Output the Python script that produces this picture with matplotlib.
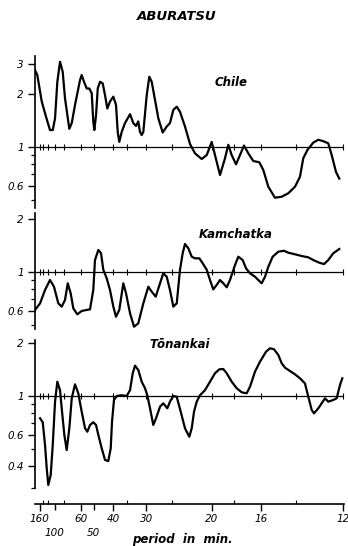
import numpy as np
import matplotlib
matplotlib.use('Agg')
from matplotlib import pyplot as plt
from matplotlib.ticker import NullFormatter

# x values: frequency in cycles per hour (axis is labelled in period = 60 / cph minutes)
# y values: spectral ratio, log scale

chile_cph = [0.302, 0.337, 0.405, 0.47, 0.531, 0.573, 0.608, 0.643, 0.684, 0.725, 0.76, 0.826,
             0.863, 0.913, 0.989, 1.015, 1.050, 1.092, 1.131, 1.168, 1.192, 1.208, 1.234, 1.260,
             1.295, 1.336, 1.371, 1.406, 1.447, 1.498, 1.539, 1.565, 1.589, 1.626, 1.676, 1.753,
             1.803, 1.844, 1.879, 1.905, 1.931, 1.956, 2.008, 2.047, 2.084, 2.134, 2.185, 2.252,
             2.313, 2.363, 2.414, 2.466, 2.516, 2.566, 2.592, 2.669, 2.745, 2.847, 2.924, 3.0,
             3.05, 3.127, 3.203, 3.253, 3.305, 3.371, 3.432, 3.493, 3.559, 3.635, 3.727, 3.788,
             3.864, 3.966, 4.069, 4.169, 4.272, 4.348, 4.398, 4.46, 4.551, 4.628, 4.704, 4.780,
             4.832, 4.898, 4.948]
chile_amp = [2.75, 2.58, 1.82, 1.49, 1.25, 1.25, 1.46, 2.36, 3.07, 2.69, 1.90, 1.27,
             1.37, 1.74, 2.41, 2.58, 2.36, 2.16, 2.16, 2.03, 1.40, 1.25, 1.52, 2.16,
             2.36, 2.31, 1.98, 1.66, 1.82, 1.94, 1.74, 1.22, 1.07, 1.22, 1.37, 1.54,
             1.37, 1.32, 1.40, 1.22, 1.17, 1.22, 1.98, 2.52, 2.36, 1.86, 1.46, 1.21,
             1.31, 1.37, 1.63, 1.70, 1.59, 1.40, 1.31, 1.04, 0.92, 0.854, 0.90, 1.07,
             0.90, 0.692, 0.862, 1.03, 0.90, 0.796, 0.90, 1.02, 0.92, 0.832, 0.818, 0.739,
             0.593, 0.513, 0.52, 0.544, 0.593, 0.677, 0.862, 0.96, 1.06, 1.10, 1.08, 1.05,
             0.90, 0.72, 0.66]

kamchatka_cph = [0.302, 0.379, 0.455, 0.531, 0.592, 0.658, 0.71, 0.76, 0.802, 0.847, 0.887, 0.948,
                 1.015, 1.092, 1.142, 1.192, 1.218, 1.269, 1.31, 1.345, 1.397, 1.447, 1.498, 1.539,
                 1.589, 1.650, 1.692, 1.753, 1.814, 1.879, 1.956, 2.032, 2.084, 2.145, 2.211, 2.261,
                 2.313, 2.363, 2.414, 2.466, 2.516, 2.557, 2.592, 2.643, 2.695, 2.745, 2.811, 2.863,
                 2.924, 2.974, 3.024, 3.076, 3.127, 3.177, 3.229, 3.279, 3.356, 3.406, 3.473, 3.524,
                 3.585, 3.661, 3.711, 3.763, 3.814, 3.864, 3.931, 4.017, 4.104, 4.169, 4.272, 4.374,
                 4.475, 4.551, 4.643, 4.715, 4.780, 4.856, 4.948]
kamchatka_amp = [0.607, 0.662, 0.789, 0.90, 0.824, 0.662, 0.634, 0.692, 0.862, 0.755, 0.62, 0.573,
                 0.599, 0.607, 0.612, 0.789, 1.17, 1.336, 1.28, 1.03, 0.92, 0.789, 0.634, 0.555,
                 0.607, 0.862, 0.755, 0.581, 0.487, 0.509, 0.662, 0.824, 0.772, 0.723, 0.862, 0.983,
                 0.94, 0.789, 0.634, 0.662, 1.03, 1.28, 1.446, 1.366, 1.223, 1.197, 1.197, 1.12,
                 1.03, 0.90, 0.796, 0.843, 0.90, 0.862, 0.818, 0.90, 1.096, 1.223, 1.17, 1.05,
                 0.983, 0.94, 0.90, 0.862, 0.94, 1.07, 1.223, 1.306, 1.323, 1.289, 1.262, 1.234,
                 1.213, 1.17, 1.13, 1.11, 1.17, 1.28, 1.353]

tonankai_cph = [0.379, 0.42, 0.455, 0.481, 0.505, 0.542, 0.573, 0.608, 0.643, 0.684, 0.715, 0.75,
                0.786, 0.826, 0.863, 0.913, 0.963, 1.015, 1.066, 1.101, 1.142, 1.192, 1.234, 1.269,
                1.321, 1.371, 1.421, 1.458, 1.478, 1.508, 1.550, 1.626, 1.702, 1.753, 1.794, 1.829,
                1.879, 1.931, 1.982, 2.017, 2.058, 2.108, 2.15, 2.211, 2.261, 2.322, 2.363, 2.414,
                2.466, 2.527, 2.592, 2.658, 2.695, 2.73, 2.771, 2.821, 2.898, 2.974, 3.05, 3.116,
                3.177, 3.229, 3.305, 3.382, 3.458, 3.534, 3.585, 3.661, 3.737, 3.829, 3.89, 3.951,
                4.017, 4.069, 4.119, 4.195, 4.272, 4.348, 4.424, 4.475, 4.527, 4.562, 4.628, 4.679,
                4.73, 4.78, 4.856, 4.908, 4.959, 4.994]
tonankai_amp = [0.746, 0.708, 0.525, 0.386, 0.31, 0.354, 0.525, 0.928, 1.207, 1.08, 0.813, 0.599,
                0.491, 0.654, 0.97, 1.166, 1.036, 0.813, 0.654, 0.625, 0.683, 0.708, 0.683, 0.599,
                0.502, 0.431, 0.425, 0.502, 0.713, 0.949, 1.0, 1.01, 1.0, 1.08, 1.348, 1.49,
                1.408, 1.207, 1.107, 1.01, 0.851, 0.683, 0.746, 0.869, 0.908, 0.851, 0.928, 1.0,
                0.99, 0.813, 0.654, 0.585, 0.654, 0.813, 0.928, 1.01, 1.08, 1.207, 1.348, 1.42,
                1.426, 1.348, 1.207, 1.107, 1.05, 1.036, 1.13, 1.377, 1.57, 1.79, 1.873, 1.85,
                1.715, 1.537, 1.451, 1.389, 1.33, 1.262, 1.18, 0.99, 0.832, 0.796, 0.851, 0.908,
                0.97, 0.928, 0.949, 0.97, 1.156, 1.262]

# period axis (minutes); 100 and 50 sit on a second, lower row
row1_periods = [160, 60, 40, 30, 20, 16, 12]
row2_periods = [100, 50]
minor_periods = [140, 120, 80, 35, 25, 18, 14]
line_tick_periods = [160, 140, 120, 100, 80, 60, 50, 40, 35, 30, 25, 20, 18, 16, 14, 12]

W, H = 348, 546
X_LO, X_HI = 0.302, 5.02


def to_cph(periods):
    return [60.0 / p for p in periods]


def fy(px):
    # pixel row from the top -> figure fraction
    return 1 - px / H


fig = plt.figure(figsize=(W / 100, H / 100), dpi=100)
fig.patch.set_facecolor('white')

TXT = dict(family='DejaVu Sans', style='italic', weight='bold', color='black')


def panel(top, bottom, cph, amp, ylim, major, major_lab, minor):
    ax = fig.add_axes([35 / W, fy(bottom), (344 - 35) / W, (bottom - top) / H])
    ax.set_yscale('log')
    ax.plot(cph, amp, color='black', lw=1.6, solid_joinstyle='round')
    ax.axhline(1, color='black', lw=0.9)
    lt = to_cph(line_tick_periods)
    ax.plot(lt, np.ones(len(lt)), ls='none', marker='|', ms=4, mew=0.8, color='black')
    ax.set_xlim(X_LO, X_HI)
    ax.set_ylim(*ylim)
    for s in ['top', 'right', 'bottom']:
        ax.spines[s].set_visible(False)
    ax.spines['left'].set_linewidth(1.2)
    ax.set_xticks([])
    ax.set_yticks(major, major_lab)
    ax.set_yticks(minor, minor=True)
    ax.yaxis.set_minor_formatter(NullFormatter())
    ax.tick_params(axis='y', which='major', length=5, width=1.0, pad=3, labelsize=7.5)
    ax.tick_params(axis='y', which='minor', length=3, width=0.9)
    for lab in ax.get_yticklabels():
        lab.set_fontstyle('italic')
    ax.patch.set_alpha(0)
    return ax


panel(56.3, 207.7, chile_cph, chile_amp, (0.45, 3.3),
      [0.6, 1, 2, 3], ['0.6', '1', '2', '3'], [0.5, 0.7, 0.8, 0.9])
panel(213.1, 328.6, kamchatka_cph, kamchatka_amp, (0.475, 2.17),
      [0.6, 1, 2], ['0.6', '1', '2'], [0.5, 0.7, 0.8, 0.9])
panel(339.6, 487.5, tonankai_cph, tonankai_amp, (0.30, 2.1),
      [0.4, 0.6, 1, 2], ['0.4', '0.6', '1', '2'], [0.3, 0.5, 0.7, 0.8, 0.9])

# bottom period axis
bx = fig.add_axes([35 / W, fy(504), (344 - 35) / W, 0.001])
bx.set_xlim(X_LO, X_HI)
bx.set_yticks([])
for s in ['top', 'right', 'left']:
    bx.spines[s].set_visible(False)
bx.spines['bottom'].set_linewidth(1.2)
bx.set_xticks(to_cph(row1_periods), [str(p) for p in row1_periods])
bx.set_xticks(to_cph(minor_periods), minor=True)
bx.tick_params(axis='x', which='major', length=5, width=1.0, pad=2, labelsize=7.5)
bx.tick_params(axis='x', which='minor', direction='in', length=3, width=0.8)
for lab in bx.get_xticklabels():
    lab.set_fontstyle('italic')

# second row of period labels, with their own ticks
bx2 = bx.twiny()
bx2.set_xlim(X_LO, X_HI)
for s in bx2.spines.values():
    s.set_visible(False)
bx2.xaxis.set_ticks_position('bottom')
bx2.xaxis.set_label_position('bottom')
bx2.set_xticks(to_cph(row2_periods), [str(p) for p in row2_periods])
bx2.tick_params(axis='x', which='major', length=4, width=1.0, pad=13, labelsize=7.5)
for lab in bx2.get_xticklabels():
    lab.set_fontstyle('italic')
    lab.set_x(lab.get_position()[0])

fig.text(177 / W, fy(16), 'ABURATSU', ha='center', va='center', fontsize=9.5, **TXT)
fig.text(231 / W, fy(83), 'Chile', ha='center', va='center', fontsize=8.5, **TXT)
fig.text(236 / W, fy(234), 'Kamchatka', ha='center', va='center', fontsize=8.5, **TXT)
fig.text(180 / W, fy(344), 'Tōnankai', ha='center', va='center', fontsize=8.5, **TXT)
fig.text(182 / W, fy(540), 'period  in  min.', ha='center', va='center', fontsize=8.5, **TXT)

fig.savefig('out.png', dpi=100, facecolor='white')
